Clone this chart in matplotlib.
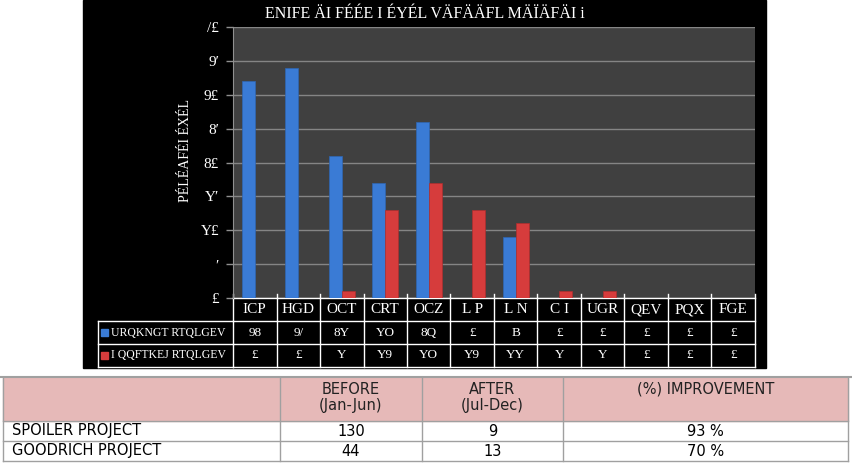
import numpy as np
import matplotlib
matplotlib.use("Agg")
import matplotlib.pyplot as plt
from matplotlib.patches import Rectangle
from matplotlib.transforms import blended_transform_factory

# chart data (text kept as it appears in the picture)
months = ["ICP", "HGD", "OCT", "CRT", "OCZ", "L P", "L N", "C I", "UGR", "QEV", "PQX", "FGE"]
spoiler = [32, 34, 21, 17, 26, 0, 9, 0, 0, 0, 0, 0]
goodrich = [0, 0, 1, 13, 17, 13, 11, 1, 1, 0, 0, 0]
series_names = ["URQKNGT RTQLGEV", "I QQFTKEJ RTQLGEV"]
y_ticks = [0, 5, 10, 15, 20, 25, 30, 35, 40]
title = "ENIFE ÄI FÉÉE I ÉYÉL VÄFÄÄFL MÄÏÄFÄI i"
ylabel = "PÉLÉAFÉI ÉXÉL"

# digits as the chart's font draws them
glyphs = {"0": "£", "1": "Y", "2": "8", "3": "9", "4": "/", "5": "′",
          "6": "Q", "7": "O", "8": "8", "9": "B"}

# summary table
summary_cols = ["BEFORE\n(Jan-Jun)", "AFTER\n(Jul-Dec)", "(%) IMPROVEMENT"]
projects = ["SPOILER PROJECT", "GOODRICH PROJECT"]
before = [130, 44]
after = [9, 13]
improvement = [93, 70]

BLUE = "#3a7bd5"
RED = "#d63c3c"
SERIF = "Liberation Serif"


def g(n):
    return "".join(glyphs[c] for c in str(n))


W, H = 853, 466
fig = plt.figure(figsize=(W / 100, H / 100), dpi=100)

# pixel canvas for backgrounds, tables and free text
cv = fig.add_axes([0, 0, 1, 1], zorder=0)
cv.set_xlim(0, W)
cv.set_ylim(H, 0)
cv.axis("off")
cv.add_patch(Rectangle((83, 0), 683, 368, color="black", zorder=0))

# main plot area
ax = fig.add_axes([233 / W, 1 - 298 / H, 522 / W, 271 / H], zorder=1)
ax.set_facecolor("#404040")
x = np.arange(len(months))
ax.bar(x - 0.15, spoiler, 0.29, color=BLUE, edgecolor="#2f66b3", linewidth=0.5, zorder=3)
ax.bar(x + 0.15, goodrich, 0.29, color=RED, edgecolor="#b02e2e", linewidth=0.5, zorder=3)
ax.set_xlim(-0.5, len(months) - 0.5)
ax.set_ylim(0, 40)
ax.set_yticks(y_ticks)
ax.set_yticklabels([g(t) for t in y_ticks], color="white", fontsize=11, family=SERIF)
ax.tick_params(axis="y", colors="#909090", labelcolor="white", length=5, width=1, pad=5)
ax.set_xticks([])
ax.grid(axis="y", color="#858585", linewidth=1, zorder=1)
for s in ["top", "right", "bottom"]:
    ax.spines[s].set_visible(False)
ax.spines["left"].set_color("#909090")

# title and y label
cv.text(425, 14, title, ha="center", va="center", color="white", fontsize=11.5, family=SERIF)
cv.text(186, 150, ylabel, ha="center", va="center", rotation=90, color="white",
        fontsize=10, family=SERIF)

# data table under the bars: month columns follow the bar axis
bt = blended_transform_factory(ax.transData, cv.transData)
rows_y = [298, 321, 344, 367]
n = len(months)
for yy in rows_y[:1]:
    ax.plot([-0.5, n - 0.5], [yy, yy], color="white", lw=1, transform=bt, clip_on=False)
for yy in rows_y[1:]:
    cv.plot([98, 233], [yy, yy], color="white", lw=1)
    ax.plot([-0.5, n - 0.5], [yy, yy], color="white", lw=1, transform=bt, clip_on=False)
cv.plot([98, 98], [321, 367], color="white", lw=1)
for i in range(n + 1):
    ax.plot([i - 0.5, i - 0.5], [294, 367], color="white", lw=1, transform=bt, clip_on=False)
for i, m in enumerate(months):
    ax.text(i, 309.5, m, ha="center", va="center", color="white", fontsize=11,
            family=SERIF, transform=bt, clip_on=False)
    ax.text(i, 332.5, g(spoiler[i]), ha="center", va="center", color="white",
            fontsize=9.5, family=SERIF, transform=bt, clip_on=False)
    ax.text(i, 355.5, g(goodrich[i]), ha="center", va="center", color="white",
            fontsize=9.5, family=SERIF, transform=bt, clip_on=False)
for k, (name, col) in enumerate(zip(series_names, [BLUE, RED])):
    yc = 332.5 + 23 * k
    cv.add_patch(Rectangle((101, yc - 3.5), 7, 7, color=col))
    cv.text(111, yc, name, ha="left", va="center", color="white", fontsize=8.5, family=SERIF)

# summary table at the bottom
col_x = [3, 280, 422, 563, 848]
cv.add_patch(Rectangle((col_x[0], 378), col_x[-1] - col_x[0], 43, color="#e6b9b8", zorder=1))
line_c = "#a0a0a0"
cv.plot([0, W], [377, 377], color=line_c, lw=1.5)
for yy in [421, 441, 461]:
    cv.plot([col_x[0], col_x[-1]], [yy, yy], color=line_c, lw=1)
for xx in col_x:
    cv.plot([xx, xx], [377, 461], color=line_c, lw=1)
centers = [(col_x[i] + col_x[i + 1]) / 2 for i in range(1, 4)]
for cx, lab in zip(centers, summary_cols):
    cv.text(cx, 382, lab, ha="center", va="top", fontsize=10.5, color="#222222",
            linespacing=1.1)
for r, name in enumerate(projects):
    yc = 431 + 20 * r
    cv.text(12, yc, name, ha="left", va="center", fontsize=10.5, color="black")
    cv.text(centers[0], yc, str(before[r]), ha="center", va="center", fontsize=10.5)
    cv.text(centers[1], yc, str(after[r]), ha="center", va="center", fontsize=10.5)
    cv.text(centers[2], yc, f"{improvement[r]} %", ha="center", va="center", fontsize=10.5)

fig.savefig("out.png", dpi=100, facecolor="white")
